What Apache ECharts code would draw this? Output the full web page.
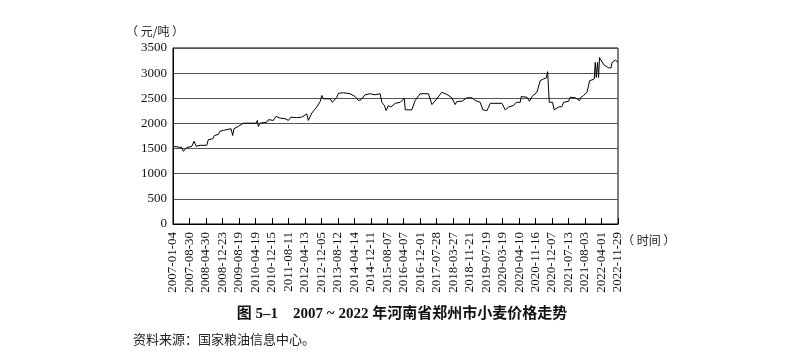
<!DOCTYPE html>
<html>
<head>
<meta charset="utf-8">
<script src="https://cdn.jsdelivr.net/npm/echarts@6/dist/echarts.min.js"></script>
<style>
  html, body { margin: 0; padding: 0; background: #fff; }
  #chart { width: 807px; height: 355px; }
</style>
</head>
<body>
<div id="chart"></div>
<script>
// Tick labels along the x axis (evenly spaced, irregular dates)
const tickLabels = [
  '2007-01-04','2007-08-30','2008-04-30','2008-12-23','2009-08-19','2010-04-19',
  '2010-12-15','2011-08-11','2012-04-13','2012-12-05','2013-08-12','2014-04-14',
  '2014-12-11','2015-08-07','2016-04-07','2016-12-01','2017-07-28','2018-03-27',
  '2018-11-21','2019-07-19','2020-03-19','2020-04-10','2020-11-16','2020-12-07',
  '2021-07-13','2021-08-03','2022-04-01','2022-11-29'
];
// Position of each sample along the tick index scale (0 = first tick label)
const xPos = [
  0.00,0.53,0.63,0.83,1.14,1.28,1.40,1.64,2.05,2.14,2.41,2.51,2.75,2.85,3.05,3.16,3.52,3.62,3.70,3.96,
  4.27,5.04,5.12,5.18,5.28,5.69,5.79,6.09,6.25,6.50,6.80,7.00,7.15,7.51,7.81,8.12,8.21,8.42,8.72,8.93,
  9.03,9.13,9.53,9.67,9.94,10.04,10.34,10.75,11.05,11.25,11.40,11.66,11.96,12.26,12.57,12.67,12.83,12.93,13.07,13.22,
  13.48,13.79,14.03,14.09,14.49,14.69,14.99,15.50,15.71,16.01,16.31,16.62,16.92,17.12,17.23,17.53,17.83,18.14,18.34,18.64,
  18.80,19.05,19.25,19.96,20.16,20.36,20.66,20.83,21.07,21.13,21.48,21.63,21.78,22.08,22.28,22.48,22.65,22.73,22.79,22.83,
  23.03,23.13,23.39,23.60,23.70,24.00,24.10,24.41,24.51,24.67,24.75,24.91,25.12,25.28,25.42,25.56,25.62,25.68,25.76,25.82,
  25.88,26.13,26.43,26.58,26.64,26.84,27.00
];
// Wheat price (yuan / ton)
const price = [
  1545,1520,1445,1520,1545,1645,1545,1565,1565,1675,1695,1760,1780,1845,1860,1895,1895,1760,1895,1940,
  2005,2005,2060,1940,2005,2025,2075,2060,2140,2105,2095,2060,2125,2115,2125,2190,2060,2205,2325,2435,
  2555,2490,2490,2420,2520,2600,2610,2590,2535,2455,2470,2570,2590,2570,2590,2420,2355,2255,2355,2325,
  2400,2420,2500,2270,2270,2455,2590,2590,2375,2490,2620,2575,2510,2375,2440,2440,2510,2510,2455,2420,
  2270,2255,2400,2400,2270,2325,2355,2420,2420,2535,2520,2440,2535,2620,2850,2885,2905,3030,3030,2420,
  2420,2270,2325,2335,2420,2440,2520,2510,2535,2455,2520,2555,2620,2850,2865,2885,3215,2915,3215,2915,
  3310,3170,3105,3105,3215,3260,3215
];
const yTicks = { min: 0, max: 3500, interval: 500 };

const serif = 'Liberation Serif, "Noto Sans CJK SC"';
const chart = echarts.init(document.getElementById('chart'), null, { renderer: 'canvas' });
chart.setOption({
  animation: false,
  backgroundColor: '#fff',
  grid: { left: 173, right: 189, top: 48, bottom: 131, show: true, borderColor: '#000', borderWidth: 1, backgroundColor: 'transparent' },
  xAxis: {
    type: 'value', min: 0, max: tickLabels.length - 1, interval: 1,
    axisLine: { show: true, lineStyle: { color: '#000', width: 1 } },
    axisTick: { show: true, inside: true, length: 6, lineStyle: { color: '#000', width: 1 } },
    splitLine: { show: false },
    axisLabel: {
      rotate: 90, margin: 8, fontSize: 13, fontFamily: serif, color: '#111',
      formatter: v => tickLabels[Math.round(v)] || ''
    }
  },
  yAxis: {
    type: 'value', min: yTicks.min, max: yTicks.max, interval: yTicks.interval,
    axisLine: { show: true, lineStyle: { color: '#000', width: 1 } },
    axisTick: { show: false },
    splitLine: { show: true, lineStyle: { color: '#555', width: 1 } },
    axisLabel: { margin: 6, fontSize: 13, fontFamily: serif, color: '#111', formatter: v => String(v) }
  },
  series: [{
    type: 'line',
    data: xPos.map((x, i) => [x, price[i]]),
    symbol: 'none',
    lineStyle: { color: '#000', width: 1 },
    z: 5
  }],
  graphic: [
    { type: 'text', left: 126, top: 25, style: { text: '（ 元/吨 ）', font: '12px "Noto Sans CJK SC"', fill: '#222' } },
    { type: 'text', left: 622, top: 234, style: { text: '（ 时间 ）', font: '12px "Noto Sans CJK SC"', fill: '#222' } },
    { type: 'text', x: 402, y: 314, style: { text: '图 5–1    2007 ~ 2022 年河南省郑州市小麦价格走势', font: 'bold 15px "Liberation Serif", "Noto Sans CJK SC"', fill: '#111', align: 'center', verticalAlign: 'middle' } },
    { type: 'text', x: 133, y: 339, style: { text: '资料来源：国家粮油信息中心。', font: '13px "Noto Sans CJK SC"', fill: '#222', align: 'left', verticalAlign: 'middle' } }
  ]
});
</script>
</body>
</html>
